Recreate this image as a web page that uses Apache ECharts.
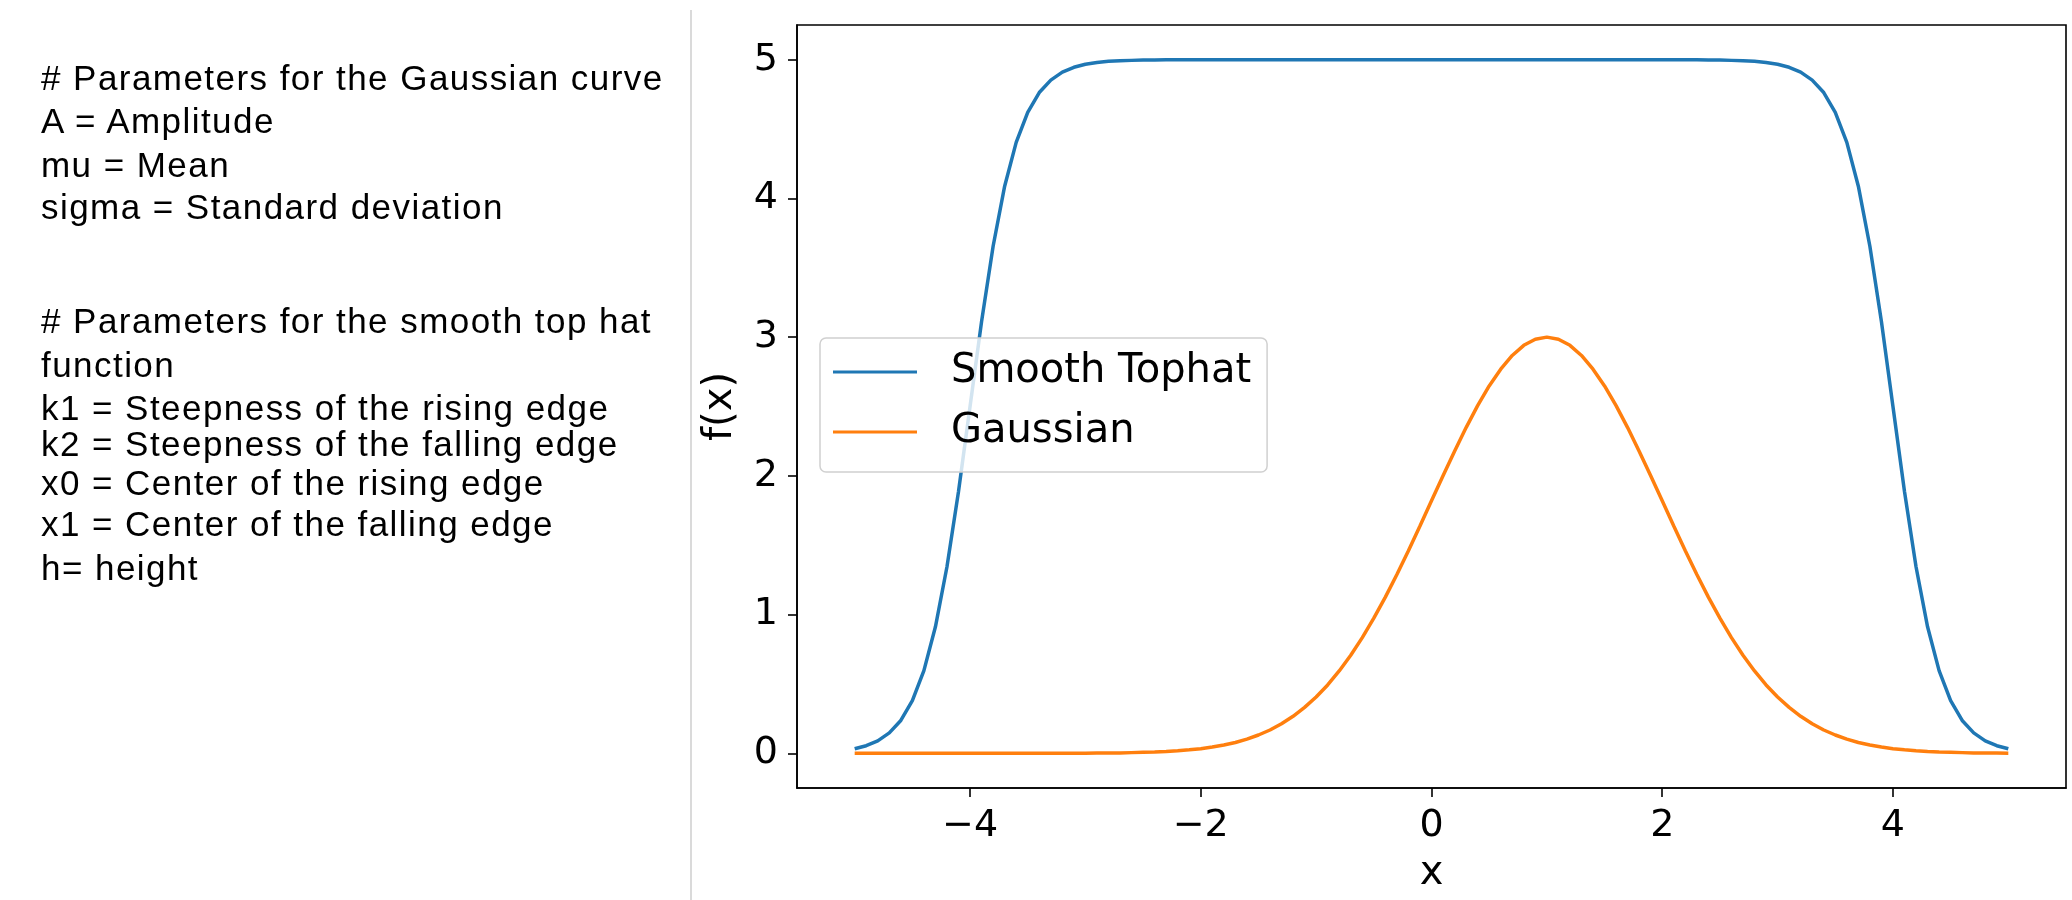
<!DOCTYPE html>
<html>
<head>
<meta charset="utf-8">
<script src="https://cdn.jsdelivr.net/npm/echarts@6/dist/echarts.min.js"></script>
<style>
  body { margin: 0; background: #fff; }
  #chart { position: absolute; left: 0; top: 0; width: 2072px; height: 900px; }
  .note {
    position: absolute; left: 41px; white-space: nowrap;
    font-family: "Liberation Sans", Arial, Helvetica, sans-serif;
    font-size: 35px; line-height: 35px; letter-spacing: 1.45px; color: #000;
  }
  #sep { position: absolute; left: 690px; top: 10px; width: 1.5px; height: 890px; background: #dadada; }
</style>
</head>
<body>
<div id="chart"></div>
<div id="sep"></div>
<div id="notes"></div>
<script>
// x sample points
const xs = [-5.0,-4.9,-4.8,-4.7,-4.6,-4.5,-4.4,-4.3,-4.2,-4.1,
  -4.0,-3.9,-3.8,-3.7,-3.6,-3.5,-3.4,-3.3,-3.2,-3.1,
  -3.0,-2.9,-2.8,-2.7,-2.6,-2.5,-2.4,-2.3,-2.2,-2.1,
  -2.0,-1.9,-1.8,-1.7,-1.6,-1.5,-1.4,-1.3,-1.2,-1.1,
  -1.0,-0.9,-0.8,-0.7,-0.6,-0.5,-0.4,-0.3,-0.2,-0.1,
  0.0,0.1,0.2,0.3,0.4,0.5,0.6,0.7,0.8,0.9,
  1.0,1.1,1.2,1.3,1.4,1.5,1.6,1.7,1.8,1.9,
  2.0,2.1,2.2,2.3,2.4,2.5,2.6,2.7,2.8,2.9,
  3.0,3.1,3.2,3.3,3.4,3.5,3.6,3.7,3.8,3.9,
  4.0,4.1,4.2,4.3,4.4,4.5,4.6,4.7,4.8,4.9,5.0];

// smooth top hat
const tophat = [0.033,0.055,0.090,0.147,0.237,0.379,0.596,0.912,1.345,1.888,
  2.5,3.112,3.655,4.088,4.404,4.621,4.763,4.853,4.910,4.945,
  4.967,4.980,4.988,4.993,4.995,4.997,4.998,4.999,
  5,5,5,5,5,5,5,5,5,
  5,5,5,5,5,5,5,5,5,
  5,5,5,5,5,5,5,5,5,
  5,5,5,5,5,5,5,5,5,
  5,5,5,5,5,5,5,5,5,
  4.999,4.998,4.997,4.995,4.993,4.988,4.980,4.967,4.945,4.910,
  4.853,4.763,4.621,4.404,4.088,3.655,3.112,2.5,1.888,1.345,
  0.912,0.596,0.379,0.237,0.147,0.090,0.055,0.033];

// gaussian
const gaussian = [0,0,0,0,0,0,0,0,0,0,
  0,0,0,0,0,0,0,0,0,0,
  0.001,0.0015,0.002,0.003,0.005,0.007,0.009,0.013,0.018,0.025,
  0.033,0.045,0.060,0.078,0.102,0.132,0.168,0.213,0.267,0.331,
  0.406,0.493,0.594,0.707,0.834,0.974,1.126,1.289,1.460,1.638,
  1.820,2.001,2.178,2.348,2.506,2.648,2.769,2.868,2.941,2.985,
  3.0,
  2.985,2.941,2.868,2.769,2.648,2.506,2.348,2.178,2.001,1.820,
  1.638,1.460,1.289,1.126,0.974,0.834,0.707,0.594,0.493,0.406,
  0.331,0.267,0.213,0.168,0.132,0.102,0.078,0.060,0.045,0.033,
  0.025,0.018,0.013,0.009,0.007,0.005,0.003,0.002,0.0015,0.001];

const xTicks = [-4, -2, 0, 2, 4];
const yTicks = [0, 1, 2, 3, 4, 5];
const seriesNames = ['Smooth Tophat', 'Gaussian'];

const noteLines = [
  ['# Parameters for the Gaussian curve', 90],
  ['A = Amplitude', 133],
  ['mu = Mean', 177],
  ['sigma = Standard deviation', 219],
  ['# Parameters for the smooth top hat', 333],
  ['function', 377],
  ['k1 = Steepness of the rising edge', 420],
  ['k2 = Steepness of the falling edge', 456],
  ['x0 = Center of the rising edge', 495],
  ['x1 = Center of the falling edge', 536],
  ['h= height', 580]
];

// left notes (top = baseline - ascent offset)
const notes = document.getElementById('notes');
noteLines.forEach(([txt, base]) => {
  const d = document.createElement('div');
  d.className = 'note';
  d.style.top = (base - 29.6) + 'px';
  d.textContent = txt;
  notes.appendChild(d);
});

const minus = v => v < 0 ? '\u2212' + (-v) : String(v);
const tickFont = { fontFamily: 'DejaVu Sans', fontSize: 38, color: '#000' };
const nameFont = { fontFamily: 'DejaVu Sans', fontSize: 40, color: '#000' };
const spine = { color: '#000', width: 1.6 };

const chart = echarts.init(document.getElementById('chart'));
chart.setOption({
  animation: false,
  backgroundColor: 'transparent',
  grid: {
    left: 797, right: 6, top: 25, bottom: 112,
    show: true, borderColor: '#000', borderWidth: 1.6, backgroundColor: 'transparent'
  },
  legend: {
    orient: 'vertical',
    left: 820, top: 338,
    icon: 'rect',
    itemWidth: 84, itemHeight: 3,
    itemGap: 20,
    padding: [14, 16, 20, 13],
    backgroundColor: 'rgba(255,255,255,0.8)',
    borderColor: '#d0d0d0', borderWidth: 1.5, borderRadius: 6,
    textStyle: { fontFamily: 'DejaVu Sans', fontSize: 40, color: '#000', padding: [0, 0, 0, 29] },
    data: seriesNames
  },
  xAxis: {
    type: 'value', min: -5.5, max: 5.5,
    name: 'x', nameLocation: 'middle', nameGap: 66,
    nameTextStyle: nameFont,
    axisLine: { show: true, onZero: false, lineStyle: spine },
    axisTick: { show: true, length: 9, customValues: xTicks, lineStyle: spine },
    axisLabel: Object.assign({ margin: 19, customValues: xTicks, formatter: minus }, tickFont),
    splitLine: { show: false }
  },
  yAxis: {
    type: 'value', min: -0.25, max: 5.25,
    name: 'f(x)', nameLocation: 'middle', nameGap: 56,
    nameTextStyle: nameFont,
    axisLine: { show: true, onZero: false, lineStyle: spine },
    axisTick: { show: true, length: 9, customValues: yTicks, lineStyle: spine },
    axisLabel: Object.assign({ margin: 19, customValues: yTicks }, tickFont),
    splitLine: { show: false }
  },
  series: [
    {
      name: seriesNames[0], type: 'line', showSymbol: false, color: '#1f77b4',
      lineStyle: { width: 3.5 },
      data: xs.map((x, i) => [x, tophat[i]])
    },
    {
      name: seriesNames[1], type: 'line', showSymbol: false, color: '#ff7f0e',
      lineStyle: { width: 3.5 },
      data: xs.map((x, i) => [x, gaussian[i]])
    }
  ]
});
</script>
</body>
</html>
